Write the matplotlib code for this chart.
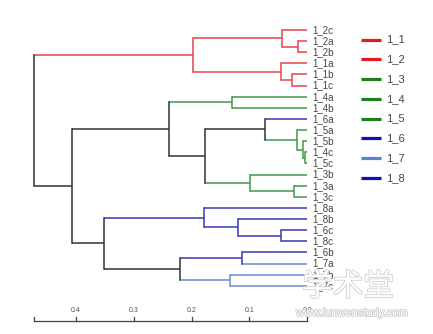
import matplotlib
matplotlib.use('Agg')
import matplotlib.pyplot as plt
import matplotlib.patheffects as pe

plt.rcParams['font.family'] = ['Liberation Sans', 'DejaVu Sans']

# ── leaves, top to bottom ─────────────────────────────────────────────
leaf_labels = ['1_2c', '1_2a', '1_2b', '1_1a', '1_1b', '1_1c',
               '1_4a', '1_4b', '1_6a', '1_5a', '1_5b', '1_4c',
               '1_5c', '1_3b', '1_3a', '1_3c', '1_8a', '1_8b',
               '1_6c', '1_8c', '1_6b', '1_7a', '1_7b', '1_7c']

# merges: (child a, child b, height); ids >= 24 are earlier merges
merges = [
    (1, 2, 0.0155),   # 24
    (0, 24, 0.044),   # 25
    (4, 5, 0.027),    # 26
    (3, 26, 0.045),   # 27
    (25, 27, 0.197),  # 28
    (6, 7, 0.130),    # 29
    (11, 12, 0.004),  # 30
    (10, 30, 0.008),  # 31
    (9, 31, 0.017),   # 32
    (8, 32, 0.073),   # 33
    (14, 15, 0.023),  # 34
    (13, 34, 0.099),  # 35
    (33, 35, 0.177),  # 36
    (29, 36, 0.239),  # 37
    (18, 19, 0.046),  # 38
    (17, 38, 0.120),  # 39
    (16, 39, 0.178),  # 40
    (20, 21, 0.113),  # 41
    (22, 23, 0.133),  # 42
    (41, 42, 0.220),  # 43
    (40, 43, 0.351),  # 44
    (37, 44, 0.406),  # 45
    (28, 45, 0.4715), # 46
]

groups = ['1_1', '1_2', '1_3', '1_4', '1_5', '1_6', '1_7', '1_8']
scale_ticks = [0.4, 0.3, 0.2, 0.1, 0.0]

# ── colours ───────────────────────────────────────────────────────────
RED, GREEN, BLUE, LBLUE, BLACK = '#e4454d', '#43984a', '#3838b4', '#6c8ad8', '#333333'
branch_col = {'1_1': RED, '1_2': RED, '1_3': GREEN, '1_4': GREEN, '1_5': GREEN,
              '1_6': BLUE, '1_7': LBLUE, '1_8': BLUE}
legend_col = {'1_1': '#e01c1c', '1_2': '#e01c1c', '1_3': '#1f7d1f', '1_4': '#1f7d1f',
              '1_5': '#1f7d1f', '1_6': '#1010c0', '1_7': '#5b80d8', '1_8': '#1010c0'}
node_override = {41: BLUE}
TXT = '#444444'

fig = plt.figure(figsize=(4.33, 3.34), dpi=100)
ax = fig.add_axes([0, 0, 1, 1])
# x in tree height units (0.0 at px 307.3, 579 px per unit); y in pixels
X0, PX = 307.3, 579.0
ax.set_xlim(X0 / PX, (X0 - 433) / PX)
ax.set_ylim(334, 0)
ax.axis('off')

Y_TOP, DY = 30.0, 11.12
n = len(leaf_labels)
ypos = {i: Y_TOP + DY * i for i in range(n)}
hgt = {i: 0.0 for i in range(n)}
cols = {i: branch_col[leaf_labels[i][:3]] for i in range(n)}
leaves_of = {i: {i} for i in range(n)}

LW = 1.1
for k, (a, b, h) in enumerate(merges):
    nid = n + k
    ypos[nid] = (ypos[a] + ypos[b]) / 2
    hgt[nid] = h
    leaves_of[nid] = leaves_of[a] | leaves_of[b]
    cset = {cols[i] for i in leaves_of[nid]}
    cols[nid] = node_override.get(nid, cset.pop() if len(cset) == 1 else BLACK)
    for c in (a, b):
        ax.plot([hgt[c], h], [ypos[c], ypos[c]], color=cols[c], lw=LW,
                solid_capstyle='butt', zorder=2)
    ax.plot([h, h], [ypos[a], ypos[b]], color=cols[nid], lw=LW,
            solid_capstyle='projecting', zorder=2)

for i, lab in enumerate(leaf_labels):
    ax.text(-5 / PX, ypos[i], lab, ha='left', va='center', fontsize=7,
            color=TXT, zorder=3)

# ── legend ────────────────────────────────────────────────────────────
for j, g in enumerate(groups):
    y = 39.5 + 19.75 * j
    ax.plot([(X0 - 360.5) / PX, (X0 - 381) / PX], [y, y], color=legend_col[g],
            lw=2.3, solid_capstyle='butt')
    ax.text((X0 - 386) / PX, y, g, ha='left', va='center', fontsize=8, color=TXT)

# ── height scale ──────────────────────────────────────────────────────
AX_Y = 320.7
root_h = merges[-1][2]
ax.plot([root_h, 0.0], [AX_Y, AX_Y], color='#444444', lw=0.9)
for t in scale_ticks + [root_h]:
    ax.plot([t, t], [AX_Y, AX_Y - 4], color='#444444', lw=0.9)
for t in scale_ticks:
    ax.text(t, 310.5, f'{t:.1f}', ha='center', va='center', fontsize=5,
            color='#555555')

# ── site watermark ────────────────────────────────────────────────────
halo = [pe.withStroke(linewidth=1.2, foreground='#cfcfcf')]
ax.text((X0 - 348) / PX, 287, '学术堂', ha='center', va='center', fontsize=22,
        color='white', family=['Noto Sans CJK SC', 'DejaVu Sans'],
        path_effects=halo, zorder=5)
ax.text((X0 - 352) / PX, 313, 'www.lunwenstudy.com', ha='center', va='center',
        fontsize=8, color='white', path_effects=halo, zorder=5)

fig.savefig('out.png', dpi=100, facecolor='white')
